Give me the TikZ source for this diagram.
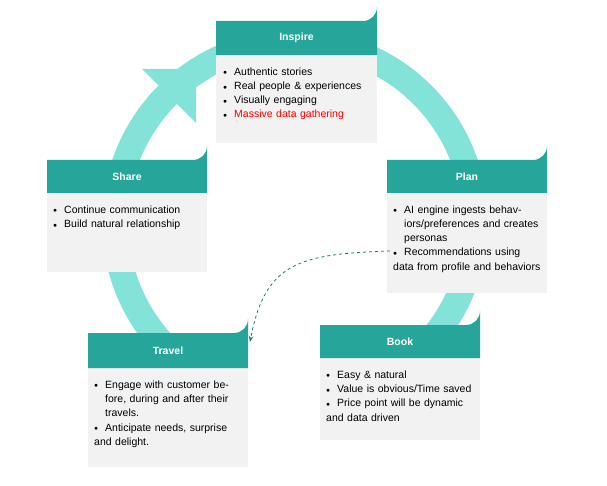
\documentclass[tikz,border=0pt]{standalone}
\usepackage{fontspec}
\setmainfont{Liberation Sans}
\usetikzlibrary{arrows.meta}
\definecolor{hdr}{HTML}{26A69A}
\definecolor{bdy}{HTML}{F2F2F2}
\definecolor{ring}{HTML}{84E3D8}
\definecolor{dashcol}{HTML}{1E7A6E}
\newcommand{\bit}{\par\noindent\hangindent=11pt\hangafter=1\makebox[11pt][l]{\raisebox{0.5pt}{\scriptsize$\bullet$}}}
\newcommand{\cardbox}[6]{% name, x1, x2, ytop, yhead, ybottom
  \fill[bdy] (#2,#5) rectangle (#3,#6);
  \fill[hdr] (#2,#5) -- (#2,#4) -- ({#3-14},#4) arc (90:0:14) -- (#3,#5) -- cycle;
}
\tikzset{
  head/.style={text=white,font=\bfseries\fontsize{10.5}{12}\selectfont,anchor=center},
  body/.style={anchor=north west,text width=148pt,align=left,inner sep=0pt,
    font=\fontsize{10.5}{14.2}\selectfont}
}
\begin{document}
\begin{tikzpicture}[x=1pt,y=-1pt]
\useasboundingbox (0,0) rectangle (607,486);
% ring
\draw[ring,line width=26pt] (295,222) ++(80:180) arc (80:-225:180);
\fill[ring] (196,69) -- (142,69) -- (196,123) -- cycle;
% cards
\cardbox{inspire}{216}{377}{21}{55}{143}
\cardbox{plan}{387}{547}{160}{193}{293}
\cardbox{book}{320}{480}{325}{358}{440}
\cardbox{travel}{88}{248}{333}{368}{467}
\cardbox{share}{47}{207}{160}{193}{272}
\node[head] (hinspire) at (296.5,38) {Inspire};
\node[head] (hplan) at (467,176.5) {Plan};
\node[head] (hbook) at (400,341.5) {Book};
\node[head] (htravel) at (168,350.5) {Travel};
\node[head] (hshare) at (127,176.5) {Share};
\node[body] (binspire) at (223,61) {\bit Authentic stories\bit Real people \& experiences\bit Visually engaging\bit\textcolor{red}{Massive data gathering}};
\node[body] (bplan) at (393,199) {\bit AI engine ingests behaviors/preferences and creates personas\bit Recommendations using data from profile and behaviors};
\node[body] (bbook) at (326,364) {\bit Easy \& natural\bit Value is obvious/Time saved\bit Price point will be dynamic and data driven};
\node[body] (btravel) at (94,374) {\bit Engage with customer before, during and after their travels.\bit Anticipate needs, surprise and delight.};
\node[body] (bshare) at (53,199) {\bit Continue communication\bit Build natural relationship};
\coordinate (src) at (390,251);
\coordinate (dst) at (250,342);
\draw[dashcol,thick,dashed,-{Stealth[length=6pt]}] (src) .. controls (300,254) and (265,262) .. (dst);
\end{tikzpicture}
\end{document}
